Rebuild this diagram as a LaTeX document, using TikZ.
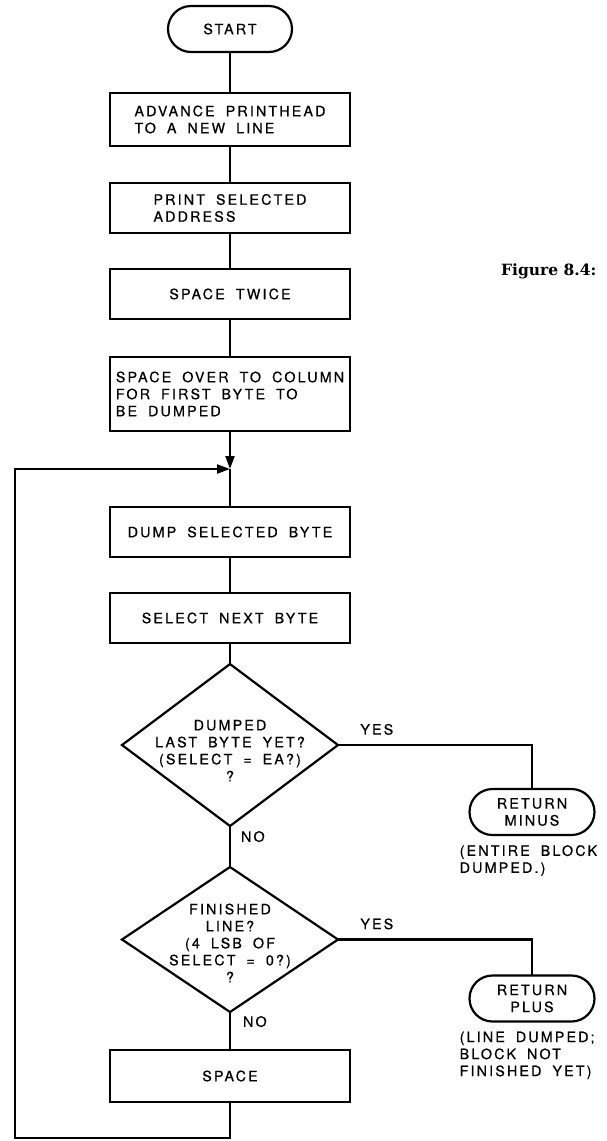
\documentclass[tikz,border=0pt]{standalone}
\usepackage{fontspec}
\setmainfont{TeX Gyre Heros}[LetterSpace=15, WordSpace=1.8, FakeBold=0.6]
\newfontfamily\capfont{DejaVu Serif}
\usepackage{tikz}
\usetikzlibrary{arrows.meta, positioning, shapes, calc}
\newcommand{\dtext}[2][-6pt]{\smash{\raisebox{#1}{\begin{tabular}{@{}c@{}}#2\end{tabular}}}}

\begin{document}
\begin{tikzpicture}[x=1pt, y=1pt, node distance=37pt,
    every node/.style={font=\fontsize{14.3}{17}\selectfont},
    box/.style={rectangle, draw, line width=2.2pt, outer sep=0pt, minimum width=240pt, minimum height=50pt, align=left, inner sep=0pt},
    term/.style={rectangle, draw, line width=2.2pt, outer sep=0pt, rounded corners=23pt, minimum width=124pt, minimum height=46pt, align=center, inner sep=0pt},
    decision/.style={diamond, draw, line width=2.2pt, outer sep=0pt, minimum width=216pt, inner sep=0pt},
    flow/.style={line width=2.2pt},
    lbl/.style={inner sep=0pt}]

\useasboundingbox (0,0) rectangle (606,-1141);

% --- main column ---
\node[term] (start) at (230,-29) {START};
\node[box, below=41pt of start, minimum height=53pt] (advance) {ADVANCE PRINTHEAD\\TO A NEW LINE};
\node[box, below=of advance] (address) {PRINT SELECTED\\ADDRESS};
\node[box, below=36pt of address] (twice) {SPACE TWICE};
\node[box, below=38pt of twice, minimum height=74pt] (column) {SPACE OVER TO COLUMN\\FOR FIRST BYTE TO\\BE DUMPED};
\coordinate[below=38pt of column] (join);
\node[box, below=38pt of join] (dump) {DUMP SELECTED BYTE};
\node[box, below=36pt of dump] (next) {SELECT NEXT BYTE};
\node[decision, below=21pt of next, minimum height=162pt] (last)
    {\dtext[-11pt]{DUMPED\\LAST BYTE YET?\\(SELECT = EA?)\\?}};
\node[decision, below=41pt of last, minimum height=145pt] (line)
    {\dtext[-9pt]{FINISHED\\LINE?\\(4 LSB OF\\SELECT = 0?)\\?}};
\node[box, below=38pt of line, minimum height=52pt] (space) {SPACE};
\coordinate[below=36pt of space] (loopb);
\coordinate (loopl) at ($(join)+(-215pt,0)$);

% --- exits ---
\node[term, minimum width=125pt] (minus) at ($(last.east)+(194pt,-67pt)$) {RETURN\\MINUS};
\node[term, minimum width=125pt] (plus) at ($(line.east)+(194pt,-59pt)$) {RETURN\\PLUS};
\node[lbl, anchor=north west, align=left] (minusnote) at ($(minus.south west)+(-10pt,-10pt)$)
    {(ENTIRE BLOCK\\DUMPED.)};
\node[lbl, anchor=north west, align=left] (plusnote) at ($(plus.south west)+(-10pt,-10pt)$)
    {(LINE DUMPED;\\BLOCK NOT\\FINISHED YET)};

\node[lbl, anchor=base west, font=\capfont\bfseries\fontsize{15.5}{18}\selectfont] (figlabel) at (501,-275) {Figure 8.4:};

% --- arrows ---
\draw[flow] (start) -- (advance);
\draw[flow] (advance) -- (address);
\draw[flow] (address) -- (twice);
\draw[flow] (twice) -- (column);
\draw[flow, -{Triangle[length=13pt,width=9pt]}] (column) -- (join);
\draw[flow] (join) -- (dump);
\draw[flow] (dump) -- (next);
\draw[flow] (next) -- (last);
\draw[flow] (last) -- node[lbl, pos=0, anchor=north west, xshift=10pt, yshift=-4pt]{NO} (line);
\draw[flow] (line) -- node[lbl, pos=0, anchor=north west, xshift=12pt, yshift=-3pt]{NO} (space);
\draw[flow] (last.east) -| node[lbl, pos=0.1, above=9pt]{YES} (minus.north);
\draw[flow] (line.east) -| node[lbl, pos=0.1, above=9pt]{YES} (plus.north);
\draw[flow, -{Triangle[length=13pt,width=9pt]}] (space) -- (loopb) -| (loopl) -- (join);

\end{tikzpicture}
\end{document}
